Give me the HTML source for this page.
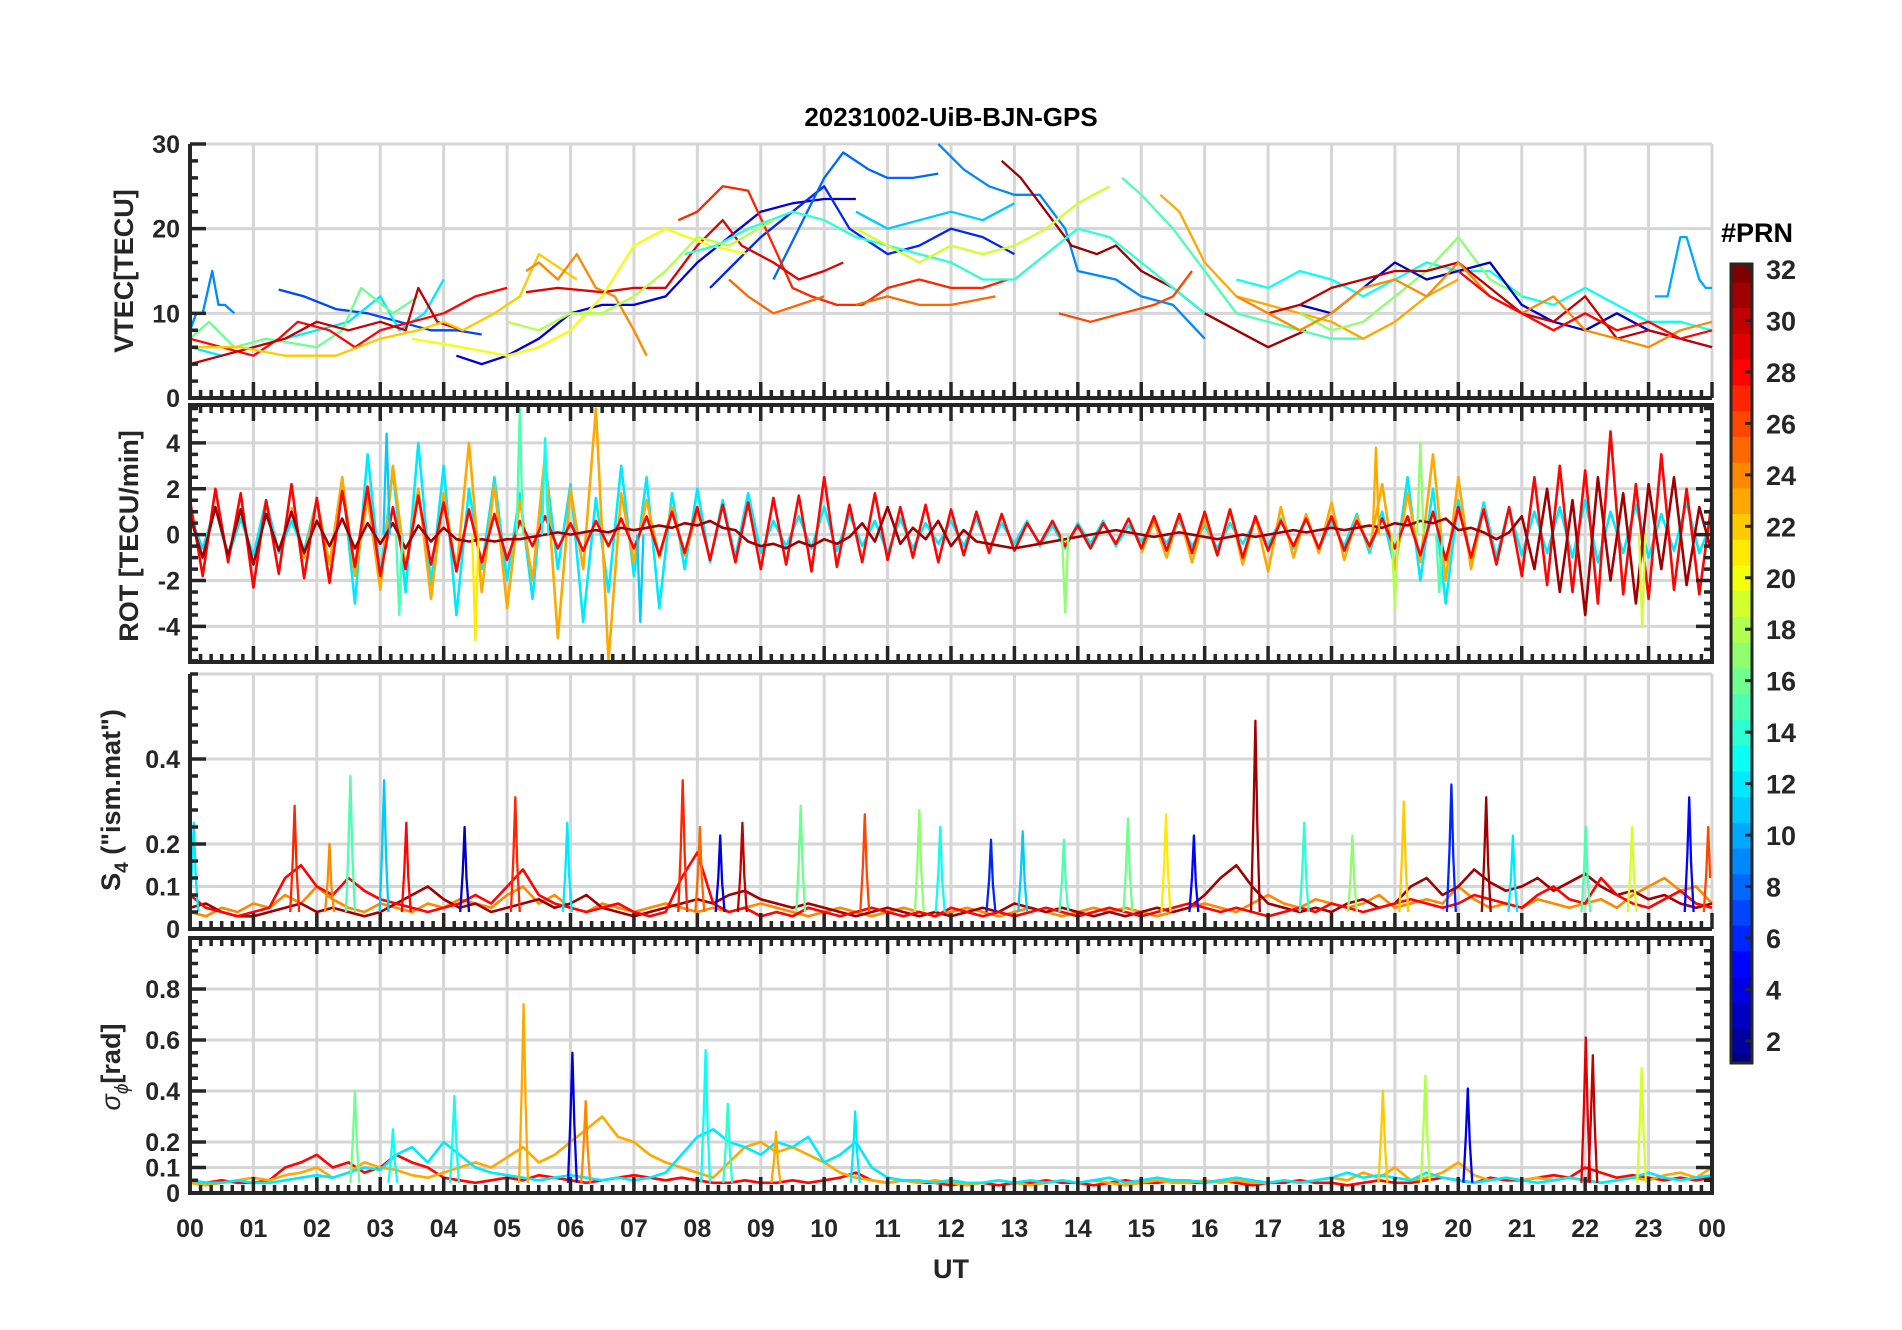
<!DOCTYPE html>
<html><head><meta charset="utf-8"><style>
html,body{margin:0;padding:0;background:#fff;}
svg{display:block;font-family:"Liberation Sans",Arial,sans-serif;}
</style></head><body>
<svg id="fig" width="1902" height="1330" viewBox="0 0 1902 1330" xmlns="http://www.w3.org/2000/svg">
<rect width="1902" height="1330" fill="#fff"/>
<text x="951" y="126" text-anchor="middle" font-size="26" font-weight="bold" fill="#000">20231002-UiB-BJN-GPS</text>
<text x="951" y="1278" text-anchor="middle" font-size="27" font-weight="bold" fill="#262626">UT</text>
<text transform="translate(133,271) rotate(-90)" text-anchor="middle" font-size="27" font-weight="bold" fill="#262626">VTEC[TECU]</text>
<text transform="translate(138,536) rotate(-90)" text-anchor="middle" font-size="27" font-weight="bold" fill="#262626">ROT [TECU/min]</text>
<text transform="translate(120,800) rotate(-90)" text-anchor="middle" font-size="27" font-weight="bold" fill="#262626">S<tspan font-size="19" dy="8">4</tspan><tspan dy="-8"> ("ism.mat")</tspan></text>
<text transform="translate(120,1067) rotate(-90)" text-anchor="middle" font-size="27" font-weight="bold" fill="#262626"><tspan font-style="italic" font-weight="normal">σ</tspan><tspan font-size="19" dy="8" font-style="italic" font-weight="normal">ϕ</tspan><tspan dy="-8">[rad]</tspan></text>
<text x="1721" y="242" font-size="27" font-weight="bold" fill="#000">#PRN</text>
</svg>
<script>
// ---------------- data ----------------
const hourLabels = ["00","01","02","03","04","05","06","07","08","09","10","11","12","13","14","15","16","17","18","19","20","21","22","23","00"];
const vtecTicks = [0,10,20,30];
const rotTicks = [-4,-2,0,2,4];
const s4Ticks = [0,0.1,0.2,0.4];
const sigTicks = [0,0.1,0.2,0.4,0.6,0.8];
const cbarTicks = [2,4,6,8,10,12,14,16,18,20,22,24,26,28,30,32];

const vtecPrn = [9,10,7,12,16,28,30,22,24,4,6,8,9,31,27,29,20,14,11,18,25,25,19,15,23,26,13,17,3,30,24,28];
const vtecT = [
[0,0.1,0.2,0.35,0.45,0.55,0.7],
[23.1,23.3,23.5,23.6,23.8,23.9,24],
[1.4,1.8,2.3,2.8,3.3,3.8,4.2,4.6],
[0,0.5,1,1.5,2,2.5,3,3.3,3.7,4],
[0,0.3,0.7,1.2,2,2.4,2.7,3.2,3.6],
[0,0.5,1,1.4,1.7,2.2,2.6,3,3.5,4,4.5,5],
[0,0.5,1,1.5,2,2.5,3,3.4,3.6,3.9,4.3],
[0,0.8,1.5,2.3,3,3.6,4,4.3,4.8,5.2,5.5,6.1],
[5.3,5.5,5.8,6.1,6.4,6.7,7.0,7.2],
[4.2,4.6,5,5.5,6,6.5,7,7.5,8,8.5,9,9.5,10,10.5],
[8.2,8.6,9,9.5,10,10.4,11,11.5,12,12.5,13],
[9.2,9.6,10,10.3,10.7,11,11.4,11.8],
[11.8,12.2,12.6,13.0,13.4,13.8,14.0,14.6,15.0,15.5,16],
[12.8,13.1,13.5,13.9,14.3,14.6,15,15.5,16,16.5,17,17.3,17.6],
[7.7,8.0,8.4,8.8,9.2,9.5,9.8,10.2,10.6,11,11.5,12,12.5,12.9],
[5.3,5.8,6.5,7,7.5,8,8.4,8.7,9.2,9.6,10,10.3],
[3.5,4.3,5,5.5,6,6.5,7,7.5,8.2,8.8],
[7.8,8.3,8.8,9.5,10,10.5,11,11.5,12,12.5,13,13.5,14,14.5,15,15.5,16],
[10.5,11,11.5,12,12.5,13],
[5,5.5,6,6.5,7,7.5,8,8.5,9.2],
[8.5,8.8,9.2,9.6,10],
[10.5,11,11.5,12,12.7],
[10.5,11,11.5,12,12.5,13,13.5,14,14.5],
[14.7,15,15.5,16,16.5,17,17.5,18,18.5],
[15.3,15.6,16,16.5,17,17.5,18,18.5,19,19.5,20],
[13.7,14.2,14.7,15.2,15.5,15.8],
[16.5,17,17.5,18,18.5,19,19.5,20,20.5,21,21.5,22,22.5,23,23.5,24],
[17.5,18,18.5,19,19.5,20,20.5,21],
[17.5,18,18.5,19,19.5,20,20.5,21,21.5,22,22.5,23,23.5,24],
[17,17.5,18,18.5,19,19.5,20,20.5,21,21.5,22,22.5,23,23.5,24],
[16.5,17,17.5,18,18.5,19,19.5,20,20.5,21,21.5,22,22.5,23,23.5,24],
[20,20.5,21,21.5,22,22.5,23,23.5,24]
];
const vtecV = [
[8,10,10,15,11,11,10],
[12,12,19,19,14,13,13],
[12.8,12,10.5,10,9,8,8,7.5],
[6,5,6,7,8,9,12,8,10,14],
[7,9,6,7,6,8,13,10,12],
[7,6,5,7,9,8,6,8,9,10,12,13],
[4,5,6,7,9,8,9,8,13,9,8],
[6,6,5,5,7,8,9,8,10,12,17,14],
[15,16,14,17,13,12,8,5],
[5,4,5,7,10,11,11,12,16,19,22,23,23.5,23.5],
[13,16,19,22,25,20,17,18,20,19,17],
[14,20,26,29,27,26,26,26.5],
[30,27,25,24,24,20,15,14,12,11,7],
[28,26,22,18,17,18,15,13,10,8,6,7,8],
[21,22,25,24.5,18,13,12,11,11,13,14,13,13,14],
[12.5,13,12.5,13,13,18,21,18,16,14,15,16],
[7,6,5,6,8,12,18,20,18,17],
[17,18,20,22,21,19,18,17,16,14,14,17,20,19,16,13,10],
[22,20,21,22,21,23],
[9,8,10,10,12,15,19,18,21],
[14,12,10,11,12],
[11,12,11,11,12],
[20,18,16,18,17,18,20,23,25],
[26,24,20,15,10,9,8,7,7],
[24,22,16,12,11,10,9,7,9,12,14],
[10,9,10,11,12,15],
[14,13,15,14,12,14,16,15,15,12,11,13,11,9,9,8],
[10,8,9,12,15,19,14,12],
[11,10,13,16,14,15,16,11,9,8,10,8,7,6],
[10,11,13,14,15,15,16,13,10,9,12,7,8,7,6],
[12,10,8,10,13,14,12,16,12,10,12,8,7,6,8,9],
[15,12,10,8,10,8,9,7,8]
];

// ROT sampled every 0.2 h
const rotPrn = [12,23,28,31];
const rotCyan = [0.8,-0.6,1.2,-1,0.7,-0.9,1.5,-0.8,0.6,-0.7,
1.5,-2,2.5,-3,3.5,-1.8,2.8,-2.5,4,-2.2,3,-3.5,2,-1.5,2.5,-2,1.8,-2.8,3.2,-1.5,2.2,-3.8,1.6,-2.5,3,-1.8,2.5,-3.2,1.8,-1.5,2,-1.2,1.5,-1,1.8,-0.8,
0.6,-0.5,0.8,-0.6,1.2,-0.7,0.9,-0.5,0.6,-0.8,0.7,-0.6,0.5,-0.4,0.6,-0.5,0.7,-0.6,0.5,-0.4,0.6,-0.5,0.4,-0.6,0.5,-0.4,0.6,-0.5,0.4,-0.3,0.5,-0.4,0.6,-0.5,0.4,-0.6,0.5,-0.4,0.6,-0.5,0.7,-0.6,0.8,-0.7,0.6,-0.5,0.9,-0.8,1,
-1.5,2.5,-2,2,-3,1.5,-1.2,1.4,-1,1.2,-0.9,1,-0.8,1.2,-1,1.5,-1.2,1,-0.8,1.3,-1,0.9,-0.7,1.4,-0.8,0.6];
const rotOrange = [null,null,null,null,null,null,null,null,
1.2,-1,1.5,-1.3,2.5,-1.8,1.6,-2.4,3,-1.5,2,-2.8,1.8,-1.6,4,-2.5,2.2,-3.2,1.5,-2,3.5,-4.5,2,-1.5,5.5,-5.5,1.8,-1.2,1.5,-1,1.2,-0.9,1,
null,null,null,null,null,null,null,null,null,null,null,null,null,null,null,null,null,null,null,null,null,null,null,null,null,null,null,null,null,null,null,null,null,null,
-0.8,0.6,-1,0.9,-1.2,0.7,-0.9,1.1,-1.3,0.8,-1.6,1.2,-1,0.9,-0.8,1.4,-1.1,0.8,-0.6,2.2,-1.5,1.8,-1.2,3.5,-2,2.5,-1.5,1.2];
const rotRed = [1.5,-1.8,2,-1.2,1.8,-2.3,1.5,-1.7,2.2,-1.9,1.6,-2.1,1.9,-1.4,2.1,-1.8,1.2,-1.5,1.7,-1.3,1.4,-1.6,1.1,-1.2,0.9,-1.1,
0.6,-0.5,0.8,-0.6,0.5,-0.7,0.6,-0.5,0.7,-0.6,0.8,-0.9,1,-0.8,1.2,-1.1,1.3,
-1.2,1.4,-1.5,1.6,-1.3,1.7,-1.6,2.5,-1.4,1.3,-1.2,1.8,-1.1,1.2,-1,1.3,-1.2,1.1,-0.9,1,-0.8,0.9,-0.7,
0.5,-0.4,0.6,-0.5,0.4,-0.6,0.5,-0.4,0.7,-0.6,0.8,-0.7,0.9,-0.8,1,-0.9,1.1,-1,0.8,-0.7,0.6,-0.5,0.7,-0.6,0.8,-0.7,0.6,-0.5,0.7,-0.6,0.8,-0.9,1,-1.1,1.2,-1,1.1,-1.3,1.2,
-1.8,2.5,-2.2,3,-2.5,2.8,-3,4.5,-2.6,2.2,-2.8,3.5,-2.4,2,-2.6,1.5];
const rotDarkRed = [0.8,-1,1.2,-0.9,1.1,-1.3,0.9,-0.7,1,-0.8,0.6,-0.5,0.7,-0.6,0.5,-0.4,0.5,-0.6,0.4,-0.3,0.3,-0.2,-0.3,-0.2,-0.3,-0.2,
-0.2,-0.1,0,0.1,0,0.1,0.2,0.1,0.3,0.2,0.3,0.4,0.3,0.5,0.4,0.6,0.3,0.2,-0.3,-0.5,-0.4,-0.6,-0.3,-0.5,-0.2,-0.4,-0.1,0.5,-0.3,1.2,-0.4,0.3,-0.2,0.6,-0.5,0.2,-0.3,-0.4,-0.5,-0.6,-0.5,-0.4,-0.3,-0.2,-0.1,0,0.1,0.2,0.1,0,-0.1,0,0.1,0,-0.1,-0.2,-0.1,0,-0.1,0,0.1,0.2,0.1,0.2,0.3,0.2,0.3,0.4,0.3,0.5,0.4,0.6,0.5,0.7,0.2,0.3,0.1,-0.2,0.1,
0.8,-1.5,2,-2.5,1.5,-3.5,2.5,-2,1.8,-3,2.2,-1.5,2.5,-2.2,1.2,-0.8];
const rotSpikeT = [3.1,3.3,4.5,5.2,5.6,7.1,13.8,18.7,19.0,19.4,19.7,22.9];
const rotSpikeV = [4.4,-3.5,-4.6,5.5,4.2,-3.8,-3.4,3.8,-3.2,4,-2.5,-4];
const rotSpikePrn = [11,15,21,15,13,11,17,23,18,17,15,19];

// S4 sampled every 0.25 h + spikes
const s4Prn = [24,31,28];
const s4Orange = [0.04,0.03,0.05,0.04,0.06,0.05,0.08,0.06,0.1,0.07,0.05,0.04,0.06,0.05,0.04,0.06,0.05,0.07,0.06,0.05,0.08,0.1,0.06,0.08,0.05,0.04,0.06,0.05,0.04,0.05,0.06,0.05,0.04,0.05,0.04,0.05,0.06,0.05,0.04,0.03,0.04,0.05,0.04,0.03,0.04,0.05,0.04,0.03,0.04,0.05,0.04,0.03,0.04,0.05,0.04,0.03,0.04,0.05,0.04,0.05,0.04,0.03,0.04,0.05,0.06,0.05,0.04,0.06,0.08,0.06,0.05,0.07,0.06,0.05,0.06,0.08,0.05,0.06,0.07,0.06,0.1,0.07,0.05,0.06,0.05,0.07,0.06,0.05,0.06,0.07,0.05,0.08,0.1,0.12,0.09,0.1,0.06];
const s4DarkRed = [0.05,0.06,0.04,0.03,0.03,0.04,0.05,0.06,0.04,0.05,0.04,0.03,0.04,0.06,0.08,0.1,0.07,0.05,0.06,0.04,0.05,0.06,0.07,0.05,0.06,0.08,0.05,0.04,0.03,0.04,0.05,0.06,0.07,0.06,0.08,0.09,0.07,0.06,0.05,0.06,0.05,0.04,0.03,0.04,0.05,0.04,0.03,0.04,0.03,0.04,0.05,0.04,0.06,0.05,0.04,0.05,0.04,0.03,0.04,0.03,0.04,0.05,0.04,0.05,0.08,0.12,0.15,0.1,0.06,0.05,0.04,0.05,0.04,0.06,0.07,0.05,0.06,0.1,0.12,0.08,0.1,0.14,0.11,0.09,0.1,0.12,0.09,0.11,0.13,0.1,0.08,0.09,0.07,0.08,0.06,0.05,0.06];
const s4Red = [0.08,0.05,0.04,0.03,0.04,0.05,0.12,0.15,0.1,0.08,0.12,0.09,0.07,0.06,0.05,0.04,0.05,0.06,0.08,0.06,0.1,0.14,0.08,0.06,0.05,0.04,0.05,0.06,0.04,0.03,0.04,0.12,0.18,0.06,0.04,0.05,0.03,0.04,0.03,0.05,0.04,0.03,0.04,0.05,0.04,0.03,0.04,0.03,0.05,0.04,0.03,0.04,0.03,0.04,0.05,0.04,0.03,0.04,0.05,0.04,0.03,0.04,0.05,0.06,0.05,0.04,0.05,0.04,0.03,0.04,0.05,0.04,0.06,0.05,0.04,0.05,0.06,0.07,0.06,0.05,0.06,0.08,0.07,0.06,0.05,0.08,0.1,0.07,0.06,0.12,0.08,0.06,0.05,0.07,0.09,0.06,0.05];
const s4SpikeT = [0.06,1.65,2.2,2.53,3.06,3.41,4.33,5.13,5.95,7.77,8.04,8.36,8.71,9.63,10.64,11.5,11.83,12.63,13.13,13.78,14.79,15.39,15.83,16.8,17.57,18.33,19.14,19.89,20.44,20.86,22.01,22.74,23.64,23.94];
const s4SpikeV = [0.25,0.29,0.2,0.36,0.35,0.25,0.24,0.31,0.25,0.35,0.24,0.22,0.25,0.29,0.27,0.28,0.24,0.21,0.23,0.21,0.26,0.27,0.22,0.49,0.25,0.22,0.3,0.34,0.31,0.22,0.24,0.24,0.31,0.24];
const s4SpikePrn = [12,27,24,15,11,28,3,27,12,27,25,4,30,16,26,17,13,6,11,15,16,21,5,31,14,17,22,6,31,12,15,19,5,26];

// sigma-phi sampled every 0.25 h + spikes
const sigPrn = [28,23,12];
const sigRed = [0.05,0.04,0.05,0.04,0.04,0.05,0.1,0.12,0.15,0.1,0.12,0.08,0.1,0.15,0.12,0.1,0.06,0.05,0.04,0.05,0.06,0.05,0.07,0.06,0.05,0.04,0.05,0.06,0.07,0.06,0.05,0.06,0.05,0.04,0.04,0.05,0.04,0.04,0.05,0.04,0.05,0.06,0.08,0.05,0.04,0.05,0.04,0.04,0.03,0.04,0.04,0.03,0.04,0.04,0.05,0.04,0.04,0.03,0.04,0.05,0.04,0.04,0.05,0.04,0.04,0.05,0.04,0.03,0.04,0.04,0.05,0.04,0.04,0.03,0.04,0.05,0.04,0.04,0.05,0.06,0.05,0.04,0.06,0.05,0.05,0.06,0.07,0.06,0.1,0.08,0.06,0.07,0.06,0.05,0.06,0.05,0.06];
const sigOrange = [0.04,0.03,0.04,0.05,0.06,0.05,0.07,0.08,0.1,0.06,0.08,0.12,0.1,0.09,0.07,0.06,0.08,0.1,0.12,0.1,0.14,0.18,0.12,0.15,0.2,0.25,0.3,0.22,0.2,0.15,0.12,0.1,0.08,0.06,0.12,0.18,0.2,0.16,0.18,0.15,0.12,0.08,0.06,0.05,0.04,0.05,0.04,0.05,0.04,0.03,0.04,0.05,0.04,0.03,0.04,0.05,0.04,0.05,0.04,0.03,0.04,0.05,0.04,0.04,0.05,0.04,0.05,0.04,0.04,0.05,0.04,0.05,0.06,0.05,0.08,0.06,0.1,0.05,0.06,0.08,0.12,0.07,0.05,0.06,0.05,0.06,0.05,0.06,0.05,0.04,0.05,0.06,0.05,0.07,0.08,0.06,0.1];
const sigCyan = [0.05,0.04,0.04,0.05,0.04,0.04,0.05,0.06,0.07,0.06,0.08,0.1,0.09,0.15,0.18,0.12,0.2,0.15,0.1,0.08,0.07,0.06,0.05,0.06,0.07,0.06,0.05,0.06,0.05,0.06,0.08,0.15,0.22,0.25,0.2,0.18,0.15,0.2,0.18,0.22,0.12,0.15,0.2,0.1,0.06,0.05,0.05,0.04,0.05,0.04,0.04,0.05,0.04,0.05,0.04,0.05,0.04,0.05,0.06,0.04,0.05,0.06,0.05,0.05,0.04,0.05,0.06,0.05,0.04,0.05,0.04,0.05,0.06,0.08,0.06,0.07,0.06,0.05,0.08,0.06,0.05,0.04,0.05,0.06,0.05,0.04,0.05,0.06,0.05,0.04,0.05,0.06,0.08,0.06,0.05,0.06,0.07];
const sigSpikeT = [2.6,3.2,4.17,5.26,6.03,6.24,8.13,8.48,9.24,10.49,18.81,19.48,20.15,22.01,22.12,22.89];
const sigSpikeV = [0.4,0.25,0.38,0.74,0.55,0.36,0.56,0.35,0.24,0.32,0.4,0.46,0.41,0.61,0.54,0.49];
const sigSpikePrn = [16,13,13,23,4,24,13,14,23,12,22,18,4,29,30,19];

// ---------------- rendering ----------------
const NS = "http://www.w3.org/2000/svg";
const svg = document.getElementById("fig");
const X0 = 190, X1 = 1712;
const xs = h => X0 + (X1 - X0) * h / 24;
const panels = [
  {name:"vtec", top:144, bot:398, min:0, max:30, major:vtecTicks, minor:2, box:false, fmt:v=>String(v)},
  {name:"rot", top:405, bot:662, min:-5.55, max:5.65, major:rotTicks, minor:0.5, box:true, fmt:v=>String(v)},
  {name:"s4", top:674, bot:929, min:0, max:0.6, major:s4Ticks, minor:0.04, box:false, fmt:v=>v===0?"0":String(v)},
  {name:"sigma", top:938, bot:1193, min:0, max:1, major:sigTicks, minor:0.05, box:true, fmt:v=>v===0?"0":String(v)}
];
function jet(p){
  const x=(p-1)/31;
  const c=v=>Math.round(255*Math.max(0,Math.min(1,v)));
  return `rgb(${c(1.5-Math.abs(4*x-3))},${c(1.5-Math.abs(4*x-2))},${c(1.5-Math.abs(4*x-1))})`;
}
function el(tag, attrs, parent){
  const e=document.createElementNS(NS,tag);
  for(const k in attrs) e.setAttribute(k,attrs[k]);
  (parent||svg).appendChild(e); return e;
}
function ysFor(P){ return v => P.bot - (P.bot-P.top)*(v-P.min)/(P.max-P.min); }

panels.forEach(P=>{
  const g=el("g",{});
  
  
  const ys=ysFor(P);
  for(let h=1;h<=24;h++){
    const l=el("line",{x1:xs(h),x2:xs(h),y1:P.top,y2:P.bot,stroke:"#d6d6d6","stroke-width":3},g);
    
    
  }
  P.major.forEach(v=>{
    const l=el("line",{x1:X0,x2:X1,y1:ys(v),y2:ys(v),stroke:"#d6d6d6","stroke-width":3},g);
    
    
  });
  if(!P.box){
    const l=el("line",{x1:X0,x2:X1,y1:P.top,y2:P.top,stroke:"#d6d6d6","stroke-width":3},g);
    
    
  }
  P.g=g; P.ys=ys;
});

function drawLine(P, ts, vs, prn, name, w){
  const ys=P.ys; let d=""; let pen=false;
  for(let i=0;i<ts.length;i++){
    const v=vs[i];
    if(v===null||v===undefined||ts[i]>24){pen=false;continue;}
    const vv=Math.max(P.min,Math.min(P.max,v));
    d+=(pen?"L":"M")+xs(ts[i]).toFixed(1)+","+ys(vv).toFixed(1);
    pen=true;
  }
  const p=el("path",{d:d,fill:"none",stroke:jet(prn),"stroke-width":w||2.3,"stroke-linejoin":"round"},P.g);
  
  
}
function stepTimes(arr, dt){ return arr.map((_,i)=>i*dt); }
function drawSpikes(P, ts, vs, prns, base, name){
  ts.forEach((t,i)=>{
    drawLine(P,[t-0.07,t-0.03,t,t+0.03,t+0.07],[base,vs[i]*0.55,vs[i],vs[i]*0.5,base],prns[i],name);
  });
}

const pV=panels[0];
vtecT.forEach((ts,i)=>drawLine(pV,ts,vtecV[i],vtecPrn[i],'vtec-line-prn'+vtecPrn[i]));
const pR=panels[1];
[rotCyan,rotOrange,rotRed,rotDarkRed].forEach((arr,i)=>drawLine(pR,stepTimes(arr,0.2),arr,rotPrn[i],'rot-line-prn'+rotPrn[i],2.6));
rotSpikeT.forEach((t,i)=>drawLine(pR,[t-0.05,t,t+0.05],[0,rotSpikeV[i],0],rotSpikePrn[i],'rot-spike'));
const pS=panels[2];
[s4Orange,s4DarkRed,s4Red].forEach((arr,i)=>drawLine(pS,stepTimes(arr,0.25),arr,s4Prn[i],'s4-line-prn'+s4Prn[i],2.6));
drawSpikes(pS,s4SpikeT,s4SpikeV,s4SpikePrn,0.04,'s4-spike');
const pG=panels[3];
[sigRed,sigOrange,sigCyan].forEach((arr,i)=>drawLine(pG,stepTimes(arr,0.25),arr,sigPrn[i],'sigma-line-prn'+sigPrn[i],2.6));
drawSpikes(pG,sigSpikeT,sigSpikeV,sigSpikePrn,0.04,'sigma-spike');

panels.forEach(P=>{
  const g=el("g",{});
  
  
  const ys=P.ys;
  let d="";
  for(let m=0;m<=144;m++){
    const x=X0+(X1-X0)*m/144, L=(m%6===0)?16:8;
    d+=`M${x},${P.bot}v${-L}`;
    if(P.box) d+=`M${x},${P.top}v${L}`;
  }
  const start=Math.ceil(P.min/P.minor-1e-6);
  for(let k=start;k*P.minor<=P.max+1e-9;k++){
    const v=k*P.minor, y=ys(v);
    const isMaj=P.major.some(t=>Math.abs(t-v)<1e-6);
    const L=isMaj?16:8;
    d+=`M${X0},${y}h${L}`;
    if(P.box) d+=`M${X1},${y}h${-L}`;
  }
  const t=el("path",{d:d,stroke:"#262626","stroke-width":3.5,fill:"none"},g);
  
  
  if(P.box){
    const box=el("rect",{x:X0,y:P.top,width:X1-X0,height:P.bot-P.top,fill:"none",stroke:"#262626","stroke-width":4},g);
    
    
  } else {
    const ax=el("path",{d:`M${X0},${P.top}V${P.bot}H${X1}`,fill:"none",stroke:"#262626","stroke-width":4},g);
    
    
  }
  P.major.forEach(v=>{
    const tx=el("text",{x:X0-10,y:ys(v)+9,"text-anchor":"end","font-size":25,"font-weight":"bold",fill:"#262626"},g);
    tx.textContent=P.fmt(v);
    
    
  });
});
hourLabels.forEach((lab,i)=>{
  const tx=el("text",{x:xs(i),y:1237,"text-anchor":"middle","font-size":25,"font-weight":"bold",fill:"#262626"});
  tx.textContent=lab;
  
  
});

const CB={x:1731,w:21,top:264,bot:1063};
const cy=v=>269+(32-v)*25.73;
const cbg=el("g",{});


for(let p=1;p<=32;p++){
  const y0=Math.max(CB.top,cy(p+0.5)), y1=Math.min(CB.bot,cy(p-0.5));
  const r=el("rect",{x:CB.x,y:y0,width:CB.w,height:y1-y0+0.6,fill:jet(p)},cbg);
  
  
}
const cf=el("rect",{x:CB.x,y:CB.top,width:CB.w,height:CB.bot-CB.top,fill:"none",stroke:"#262626","stroke-width":3},cbg);


cbarTicks.forEach(v=>{
  const l=el("line",{x1:CB.x+CB.w-7,x2:CB.x+CB.w,y1:cy(v),y2:cy(v),stroke:"#262626","stroke-width":3},cbg);
  
  
  const tx=el("text",{x:1766,y:cy(v)+10,"font-size":27,"font-weight":"bold",fill:"#262626"},cbg);
  tx.textContent=String(v);
  
  
});
</script>
</body></html>
